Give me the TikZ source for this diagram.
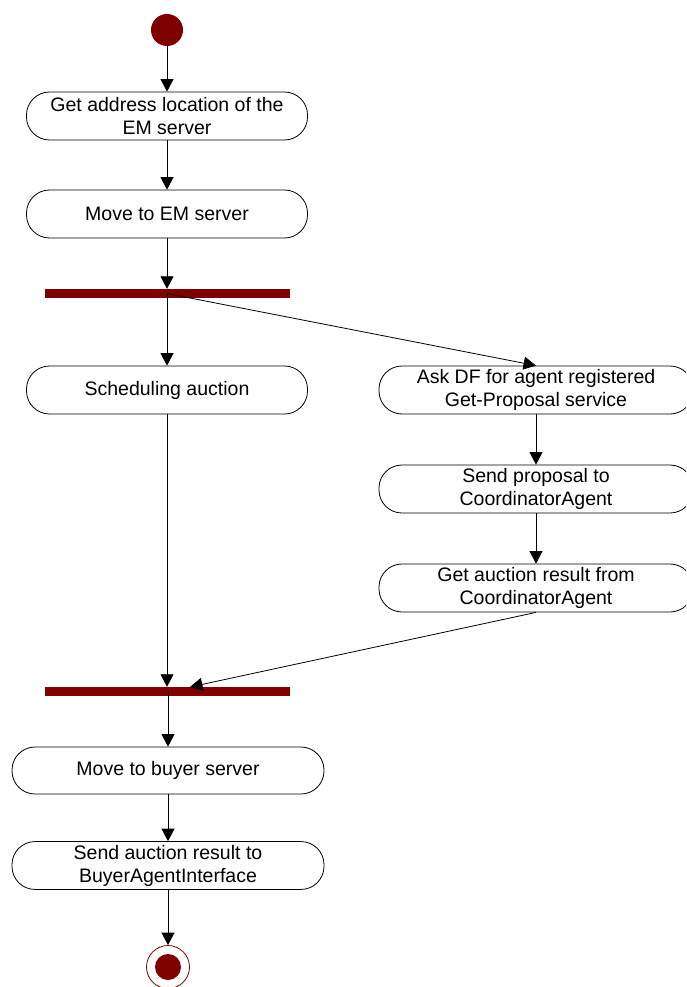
\documentclass[tikz,border=0pt]{standalone}
\usepackage{fontspec}
\setmainfont{Liberation Sans}
\usetikzlibrary{arrows.meta}
\definecolor{umlred}{HTML}{800000}
\tikzset{
  act/.style={draw, line width=0.8pt, fill=white, rounded corners=23pt,
    minimum height=48pt, align=center,
    font=\fontsize{19.5}{23}\selectfont},
  syncbar/.style={fill=umlred, draw=none, minimum width=245pt,
    minimum height=9pt, inner sep=0pt},
  flow/.style={line width=0.8pt, -{Triangle[length=12.5pt,width=13pt]}}
}
\begin{document}
\begin{tikzpicture}[x=1pt, y=-1pt]
      \clip (0,0) rectangle (686,987);
      \fill[white] (0,0) rectangle (686,987);
      \draw
        (167,30) node[circle, fill=umlred, minimum size=32pt, inner sep=0pt] (start){}
        (167,116) node[act, minimum width=281pt] (addr){Get address location of the\\EM server}
        (167,214) node[act, minimum width=281pt] (move){Move to EM server}
        (167,293.5) node[syncbar] (fork){}
        (167,390) node[act, minimum width=281pt] (sched){Scheduling auction}
        (536,390) node[act, minimum width=314pt] (ask){Ask DF for agent registered\\Get-Proposal service}
        (536,489) node[act, minimum width=314pt] (send){Send proposal to\\CoordinatorAgent}
        (536,588) node[act, minimum width=314pt] (result){Get auction result from\\CoordinatorAgent}
        (167,691.5) node[syncbar] (join){}
        (168,770.5) node[act, minimum width=312pt, minimum height=47pt] (buyer){Move to buyer server}
        (168,865.5) node[act, minimum width=312pt, minimum height=47pt] (notify){Send auction result to\\BuyerAgentInterface}
        (168,967) node[circle, draw=umlred, line width=0.8pt, minimum size=43pt, inner sep=0pt] (stop){};
      \fill[umlred] (stop) circle (13pt);
      \coordinate (joinin) at (190,687);
      \begin{scope}[flow]
        \draw (start) to (addr);
        \draw (addr) to (move);
        \draw (move.south) to (move.south |- fork.north);
        \draw (fork.center) to (sched.north);
        \draw (fork.center) to (ask.north);
        \draw (ask) to (send);
        \draw (send) to (result);
        \draw (result.south) to (joinin);
        \draw (sched.south) to (sched.south |- join.north);
        \draw (buyer.north |- join.center) to (buyer.north);
        \draw (buyer) to (notify);
        \draw (notify) to (stop);
      \end{scope}
    \end{tikzpicture}
\end{document}
